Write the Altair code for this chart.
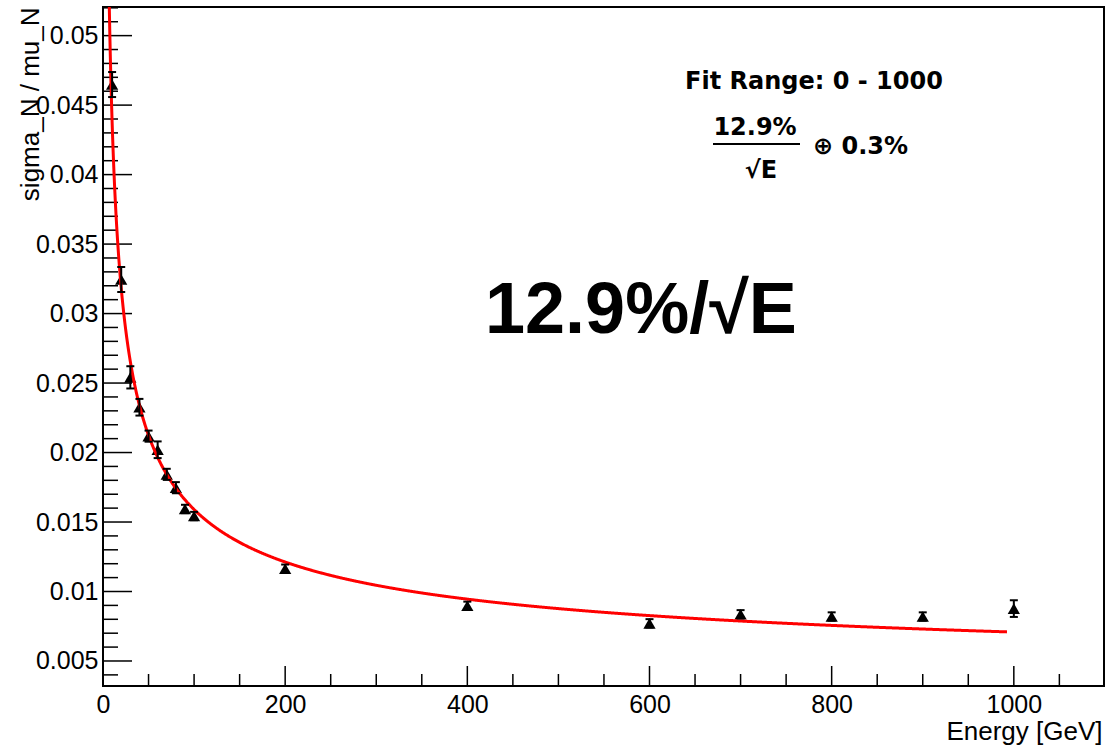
import altair as alt
import pandas as pd

# Beam energies [GeV] and measured relative resolution sigma_N / mu_N
energy = [10, 20, 30, 40, 50, 60, 70, 80, 90, 100, 200, 400, 600, 700, 800, 900, 1000]
resolution = [0.04648, 0.03245, 0.02541, 0.02326, 0.02118, 0.02020, 0.01843, 0.01747,
              0.01594, 0.01543, 0.01164, 0.00897, 0.00771, 0.00836, 0.00820, 0.00820, 0.00877]
res_error = [0.0009, 0.0009, 0.0008, 0.0006, 0.0004, 0.0006, 0.0004, 0.0004,
             0.0003, 0.0003, 0.0003, 0.0003, 0.0003, 0.0003, 0.0003, 0.0003, 0.0006]

# Fit parameters: stochastic and constant terms
STOCH = 0.129
CONST = 0.003

# Axis tick values
x_major = [0, 200, 400, 600, 800, 1000]
x_minor = [v for v in range(50, 1100, 50) if v % 200 != 0]
y_major = [round(0.005 * k, 3) for k in range(1, 11)]
y_minor = [round(0.001 * k, 3) for k in range(4, 53) if k % 5 != 0]

X_DOMAIN = [0, 1099]
Y_DOMAIN = [0.0032, 0.05206]
W, H = 1001, 679
FONT = "Liberation Sans"
ROOTFONT = "DejaVu Sans"

xs = alt.Scale(domain=X_DOMAIN, nice=False, zero=False)
ys = alt.Scale(domain=Y_DOMAIN, nice=False, zero=False)

df = pd.DataFrame({"E": energy, "res": resolution, "err": res_error})
df["lo"] = df["res"] - df["err"]
df["hi"] = df["res"] + df["err"]

x_axis = alt.Axis(values=x_major, format="d", ticks=False, domain=False, grid=False,
                  labelFlush=False, labelOverlap=False,
                  labelFont=FONT, labelFontSize=25, labelColor="black", labelPadding=6,
                  title="Energy [GeV]", titleFont=FONT, titleFontSize=26,
                  titleFontWeight="normal", titleColor="black", titleAlign="right",
                  titleBaseline="alphabetic", titleX=W - 2, titleY=53)
y_axis = alt.Axis(values=y_major, format=".3~f", ticks=False, domain=False, grid=False,
                  labelFlush=False, labelOverlap=False,
                  labelFont=FONT, labelFontSize=25, labelColor="black", labelPadding=5,
                  title="sigma_N / mu_N", titleFont=FONT, titleFontSize=26,
                  titleFontWeight="normal", titleColor="black", titleAngle=270,
                  titleAlign="right", titleBaseline="alphabetic", titleX=-65, titleY=0)


def X(field):
    return alt.X(field, scale=xs, axis=x_axis)


def Y(field):
    return alt.Y(field, scale=ys, axis=y_axis)


points = alt.Chart(df).mark_point(shape="triangle-up", filled=True, size=150,
                                  color="black", opacity=1).encode(
    x=X("E:Q"), y=Y("res:Q"))

err_bars = alt.Chart(df).mark_rule(color="black", strokeWidth=2).encode(
    x=X("E:Q"), y=Y("lo:Q"), y2="hi:Q")
err_caps = alt.Chart(df).transform_fold(["lo", "hi"], as_=["end", "val"]).mark_point(
    shape="M-1,0L1,0", size=64, strokeWidth=2, color="black", filled=False, opacity=1
).encode(x=X("E:Q"), y=Y("val:Q"))

fit = alt.Chart(alt.sequence(6.0, 993.0, 0.5, as_="E")).transform_calculate(
    sigma=f"{STOCH} / sqrt(datum.E) + {CONST}"
).mark_line(color="#ff0000", strokeWidth=3, clip=True).encode(
    x=X("E:Q"), y=Y("sigma:Q"))


# Inward-pointing ticks, ROOT style
def y_ticks(vals, length):
    return alt.Chart(pd.DataFrame({"v": vals})).mark_rule(color="black", strokeWidth=1.5).encode(
        y=Y("v:Q"), x=alt.value(0), x2=alt.value(length))


def x_ticks(vals, length):
    return alt.Chart(pd.DataFrame({"v": vals})).mark_rule(color="black", strokeWidth=1.5).encode(
        x=X("v:Q"), y=alt.value(H), y2=alt.value(H - length))


one = pd.DataFrame({"k": [0]})


def label(text, x, y, size, font, align="left", weight="bold"):
    return alt.Chart(one).mark_text(text=text, font=font, fontSize=size, fontWeight=weight,
                                    align=align, baseline="alphabetic", color="black").encode(
        x=alt.value(x), y=alt.value(y))


fit_title = label("Fit Range: 0 - 1000", 711, 82, 24, ROOTFONT, align="center")
numer = label("12.9%", 652, 128, 24, ROOTFONT, align="center")
frac_line = alt.Chart(one).mark_rule(color="black", strokeWidth=2).encode(
    x=alt.value(610), x2=alt.value(697), y=alt.value(137))
denom = label("√E", 658, 171, 24, ROOTFONT, align="center")
oplus = label("⊕ 0.3%", 710, 147, 24, ROOTFONT)
big = label("12.9%/√E", 382, 326, 72, FONT)

chart = alt.layer(
    points,
    y_ticks(y_major, 29), y_ticks(y_minor, 15),
    x_ticks(x_major, 20), x_ticks(x_minor, 12),
    fit, err_bars, err_caps,
    fit_title, numer, frac_line, denom, oplus, big,
).properties(
    width=W, height=H,
    autosize="none",
    padding={"left": 103, "top": 7, "right": 15, "bottom": 69},
    background="white",
).configure_view(stroke="black", strokeWidth=2)

chart.save("out.html", embed_options={"renderer": "svg", "actions": False})
